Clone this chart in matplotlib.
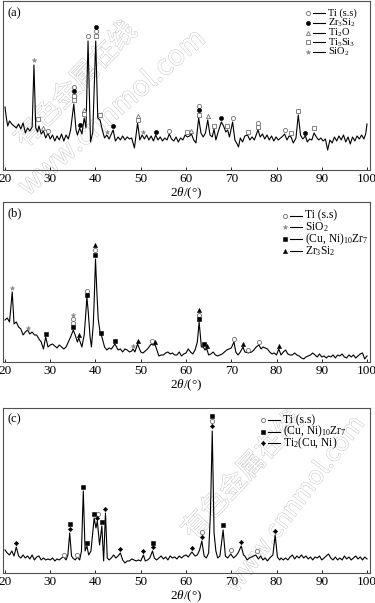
import numpy as np
import matplotlib
matplotlib.use("Agg")
import matplotlib.pyplot as plt
import matplotlib.patheffects as pe

plt.rcParams['font.family'] = 'Liberation Serif'
plt.rcParams['mathtext.fontset'] = 'custom'
plt.rcParams['mathtext.rm'] = 'Liberation Serif'
plt.rcParams['mathtext.it'] = 'Liberation Serif:italic'

# ---------------- pattern (a) ----------------
tt_a = [20.0, 20.3, 20.6, 21.0, 21.5, 22.0, 22.5, 23.0, 23.5, 24.0,
        24.5, 25.0, 25.5, 26.0, 26.4, 26.8, 27.2, 27.5, 28.0, 28.5,
        29.0, 29.5, 30.0, 30.5, 31.0, 31.5, 32.0, 32.5, 33.0, 33.5,
        34.0, 34.5, 35.2, 35.7, 36.0, 36.5, 37.0, 37.5, 37.9, 38.35,
        38.9, 39.4, 40.05, 40.5, 41.0, 41.5, 42.0, 42.5, 43.0, 43.5,
        43.9, 44.4, 45.0, 45.5, 46.0, 46.5, 47.0, 47.5, 48.0, 48.6,
        49.3, 49.8, 50.3, 50.8, 51.3, 51.8, 52.3, 52.8, 53.3, 53.8,
        54.3, 54.8, 55.3, 55.8, 56.3, 56.8, 57.3, 57.8, 58.3, 58.8,
        59.3, 59.8, 60.3, 60.8, 61.2, 61.7, 62.2, 62.8, 63.3, 63.8,
        64.3, 64.8, 65.3, 65.8, 66.2, 66.6, 67.1, 67.8, 68.3, 68.8,
        69.2, 69.6, 70.3, 70.8, 71.3, 71.6, 72.0, 72.5, 73.0, 73.6,
        74.1, 74.6, 75.1, 75.9, 76.4, 76.9, 77.4, 77.9, 78.4, 78.9,
        79.4, 79.9, 80.4, 80.9, 81.4, 81.8, 82.3, 82.8, 83.2, 83.7,
        84.3, 84.8, 85.3, 85.8, 86.4, 86.8, 87.3, 87.8, 88.3, 88.8,
        89.3, 89.8, 90.3, 90.8, 91.3, 91.8, 92.3, 92.8, 93.3, 93.8,
        94.3, 94.8, 95.3, 95.8, 96.3, 96.8, 97.3, 97.8, 98.3, 98.8,
        99.3, 99.7, 100.0]
int_a = [63, 52, 44, 49, 46, 44, 42, 46, 41, 47,
         37, 42, 39, 43, 105, 42, 38, 44, 36, 39,
         32, 37, 31, 35, 29, 34, 30, 36, 29, 35,
         31, 40, 66, 40, 35, 42, 36, 52, 42, 129,
         28, 38, 129, 52, 50, 40, 32, 35, 31, 36,
         40, 29, 33, 30, 34, 30, 33, 31, 32, 22,
         47, 30, 35, 31, 35, 30, 34, 29, 35, 30,
         33, 29, 32, 30, 36, 31, 29, 33, 28, 32,
         30, 35, 33, 34, 36, 30, 27, 52, 37, 33,
         37, 50, 35, 33, 41, 30, 38, 48, 44, 38,
         40, 33, 48, 30, 26, 23, 32, 28, 34, 35,
         30, 33, 30, 40, 33, 36, 31, 35, 30, 34,
         29, 33, 30, 32, 34, 36, 30, 34, 33, 27,
         32, 55, 35, 31, 34, 28, 31, 30, 37, 33,
         30, 32, 29, 31, 20, 30, 27, 33, 29, 34,
         30, 35, 28, 33, 26, 33, 29, 34, 31, 35,
         31, 36, 46]

a_ti_x = [29.6, 35.2, 38.35, 40.05, 56.3, 62.8, 70.3, 76.0, 81.8]
a_ti_y = [39, 83, 134, 138.5, 39, 64, 52, 47, 40]
a_zr_x = [35.2, 36.5, 40.05, 43.9, 53.3, 62.8, 67.8, 86.4]
a_zr_y = [79, 45, 143, 44, 38, 60, 52, 37]
a_ti2o_x = [28.5, 37.5, 49.3, 61.2, 64.8]
a_ti2o_y = [42, 60, 54, 39, 54]
a_ti5_x = [27.3, 35.2, 35.2, 37.5, 40.05, 41.0, 49.3, 60.2, 62.8, 66.2,
           69.0, 73.6, 76.0, 83.2, 84.8, 88.3]
a_ti5_y = [51, 70, 74, 56, 134, 55, 50, 38, 55, 44,
           44, 38, 43, 37, 59, 42]
a_sio2_x = [26.4, 42.5, 50.5]
a_sio2_y = [110, 38, 38]

# ---------------- pattern (b) ----------------
tt_b = [20.0, 20.5, 21.0, 21.6, 22.0, 22.5, 23.0, 23.5, 24.0, 24.5,
        25.0, 25.5, 26.0, 26.5, 27.0, 27.5, 28.0, 28.5, 29.0, 29.5,
        30.0, 30.5, 31.0, 31.5, 32.0, 32.5, 33.0, 33.5, 34.0, 34.5,
        35.1, 35.5, 36.0, 36.3, 37.0, 37.5, 37.8, 38.1, 38.4, 38.8,
        39.1, 39.5, 39.7, 40.0, 40.3, 40.6, 41.0, 41.3, 42.0, 42.5,
        43.0, 43.5, 44.3, 45.0, 45.5, 46.0, 46.5, 47.0, 47.5, 48.0,
        48.3, 48.7, 49.3, 50.0, 50.5, 51.0, 51.5, 52.3, 52.7, 53.2,
        53.7, 54.0, 54.5, 55.0, 55.5, 56.0, 56.5, 57.0, 57.5, 58.0,
        58.5, 59.0, 59.5, 60.0, 60.5, 61.0, 61.5, 62.0, 62.5, 62.9,
        63.4, 63.8, 64.2, 64.6, 65.0, 65.5, 66.0, 66.5, 67.0, 67.5,
        68.0, 68.5, 69.0, 69.5, 70.0, 70.6, 71.0, 71.5, 72.0, 72.6,
        73.0, 73.8, 74.5, 75.0, 75.5, 76.1, 76.6, 77.0, 77.5, 78.0,
        78.5, 79.0, 79.5, 80.0, 80.5, 81.0, 81.5, 82.0, 82.5, 83.0,
        83.5, 84.0, 84.5, 85.0, 85.5, 86.0, 86.5, 87.0, 87.5, 88.0,
        88.5, 89.0, 89.5, 90.0, 90.5, 91.0, 91.5, 92.0, 92.5, 93.0,
        93.5, 94.0, 94.5, 95.0, 95.5, 96.0, 96.5, 97.0, 97.5, 98.0,
        98.5, 99.0, 99.5, 100.0]
int_b = [42, 44, 40, 70, 38, 40, 35, 33, 27, 30,
         32, 28, 30, 27, 27, 23, 20, 13, 25, 15,
         17, 18, 16, 14, 17, 15, 13, 15, 20, 25,
         32, 27, 20, 24, 15, 27, 45, 65, 50, 25,
         15, 37, 60, 103, 70, 43, 30, 27, 15, 12,
         14, 13, 18, 12, 13, 10, 13, 12, 10, 11,
         13, 10, 18, 10, 9, 11, 13, 18, 17, 17,
         10, 6, 7, 7, 9, 10, 8, 9, 7, 7,
         10, 6, 8, 9, 13, 10, 8, 12, 20, 40,
         15, 15, 12, 13, 7, 8, 10, 7, 6, 7,
         8, 10, 12, 13, 14, 20, 10, 7, 10, 15,
         10, 9, 10, 12, 15, 17, 13, 15, 14, 13,
         10, 8, 9, 7, 13, 7, 10, 12, 8, 7,
         7, 9, 7, 6, 4, 3, 5, 6, 7, 9,
         7, 5, 8, 5, 6, 4, 6, 5, 7, 4,
         7, 6, 8, 5, 4, 7, 5, 7, 4, 6,
         8, 9, 3, 6]

b_ti_x = [35.1, 35.1, 38.1, 40.0, 52.5, 62.9, 70.6, 73.8, 76.1]
b_ti_y = [39, 43, 71, 112, 21, 47, 23, 12, 20]
b_sio2_x = [21.6, 25.0, 35.1, 48.3]
b_sio2_y = [74, 34, 47, 16]
b_cuni_x = [29.0, 35.1, 38.1, 40.0, 41.3, 44.3, 62.9, 63.9]
b_cuni_y = [28, 35, 67, 107, 29, 21, 43, 18]
b_zr_x = [36.3, 40.0, 49.3, 53.2, 62.9, 64.6, 72.6, 80.5]
b_zr_y = [27, 117, 21, 20, 52, 16, 18, 16]

# ---------------- pattern (c) ----------------
tt_c = [20.0, 20.5, 21.0, 21.5, 22.0, 22.5, 23.0, 23.5, 24.0, 24.5,
        25.0, 25.5, 26.0, 26.5, 27.0, 27.5, 28.0, 28.5, 29.0, 29.5,
        30.0, 30.5, 31.0, 31.5, 32.0, 32.5, 33.0, 33.5, 33.9, 34.3,
        34.7, 35.0, 35.5, 36.0, 36.5, 36.9, 37.3, 37.7, 38.1, 38.5,
        39.0, 39.7, 40.1, 40.4, 40.9, 41.4, 41.8, 42.2, 42.6, 43.0,
        43.5, 44.0, 44.5, 45.0, 45.5, 46.0, 46.5, 47.0, 47.5, 48.0,
        48.5, 49.0, 49.5, 50.0, 50.6, 51.0, 51.5, 52.0, 52.6, 53.0,
        53.5, 54.0, 54.5, 55.0, 55.5, 56.0, 56.5, 57.0, 57.5, 58.0,
        58.5, 59.0, 59.5, 60.0, 60.5, 61.3, 62.0, 62.5, 63.0, 63.5,
        64.0, 64.5, 65.0, 65.4, 65.8, 66.2, 66.6, 67.0, 67.5, 68.2,
        68.7, 69.2, 69.9, 70.5, 71.0, 71.5, 72.2, 72.7, 73.0, 73.5,
        74.0, 74.5, 75.4, 76.0, 76.5, 77.0, 77.5, 78.0, 78.5, 79.2,
        79.7, 80.2, 80.7, 81.0, 81.5, 82.0, 82.5, 83.0, 83.5, 84.0,
        84.5, 85.0, 85.5, 86.0, 86.5, 87.0, 87.5, 88.0, 88.5, 89.0,
        89.5, 90.0, 90.5, 91.0, 91.5, 92.0, 92.5, 93.0, 93.5, 94.0,
        94.5, 95.0, 95.5, 96.0, 96.5, 97.0, 97.5, 98.0, 98.5, 99.0,
        99.5, 100.0]
int_c = [23, 20, 18, 22, 17, 26, 17, 15, 18, 15,
         17, 14, 18, 13, 16, 17, 13, 15, 13, 14,
         13, 15, 12, 14, 13, 15, 16, 13, 18, 40,
         17, 15, 13, 16, 13, 22, 82, 22, 27, 18,
         22, 55, 45, 52, 28, 47, 12, 60, 15, 13,
         15, 18, 15, 17, 20, 13, 10, 12, 12, 14,
         13, 12, 13, 12, 18, 12, 13, 15, 22, 15,
         13, 15, 17, 14, 16, 13, 17, 15, 16, 14,
         17, 15, 17, 18, 16, 21, 17, 18, 23, 32,
         17, 15, 20, 60, 142, 40, 22, 15, 17, 43,
         17, 15, 19, 15, 17, 20, 27, 18, 17, 13,
         15, 16, 18, 14, 17, 13, 15, 12, 15, 18,
         38, 16, 13, 15, 13, 15, 13, 16, 18, 14,
         17, 15, 18, 15, 17, 14, 16, 13, 16, 15,
         17, 13, 15, 17, 19, 15, 13, 16, 13, 15,
         13, 17, 14, 16, 13, 15, 17, 14, 16, 13,
         16, 14]

c_ti_x = [33.1, 36.0, 40.6, 63.5, 65.8, 69.9, 75.6]
c_ti_y = [18, 18, 59, 41, 152, 23, 22]
c_cuni_x = [34.3, 37.3, 38.1, 39.7, 41.4, 52.6, 65.8, 68.2]
c_cuni_y = [49, 86, 30, 59, 51, 30, 157, 48]
c_ti2_x = [22.5, 34.3, 40.4, 42.2, 45.5, 50.6, 52.6, 61.3, 63.5, 65.8, 72.2, 79.7]
c_ti2_y = [30, 44, 55, 64, 24, 22, 26, 25, 36, 147, 31, 42]

x_ticks = [20, 30, 40, 50, 60, 70, 80, 90, 100]

OPEN = '#707070'
STYLES = {
    'open_o': dict(marker='o', mfc='white', mec=OPEN, ms=3.0, mew=0.6),
    'fill_o': dict(marker='o', mfc='black', mec='black', ms=3.0, mew=0.4),
    'open_t': dict(marker='^', mfc='white', mec=OPEN, ms=3.0, mew=0.6),
    'fill_t': dict(marker='^', mfc='black', mec='black', ms=3.0, mew=0.4),
    'open_s': dict(marker='s', mfc='white', mec=OPEN, ms=2.8, mew=0.6),
    'fill_s': dict(marker='s', mfc='black', mec='black', ms=2.8, mew=0.4),
    'star': dict(marker='*', mfc='#858585', mec='#858585', ms=3.4, mew=0.3),
    'fill_d': dict(marker='D', mfc='black', mec='black', ms=2.2, mew=0.4),
}


def draw_panel(ax, tt, inten, top, phases, tag, key_x, key_y, key_dy, key_fs):
    ax.set_facecolor('none')
    ax.plot(tt, inten, color='black', lw=0.8, zorder=2)
    for xs, ys, style, _label in phases:
        ax.plot(xs, ys, ls='none', zorder=3, **STYLES[style])
    ax.set_xlim(19.56, 100.66)
    ax.set_ylim(0, top)
    ax.set_yticks([])
    ax.set_xticks(x_ticks)
    ax.tick_params(axis='x', direction='in', length=2.5, width=0.6,
                   labelsize=9.5, pad=2.5)
    for sp in ax.spines.values():
        sp.set_color('#505050')
        sp.set_linewidth(0.8)
    ax.set_xlabel(r'$2\theta$/(°)', fontsize=9.5, labelpad=0)
    ax.text(0.012, 0.965, tag, transform=ax.transAxes, fontsize=9,
            va='top', ha='left')
    # key: marker, short line, then name
    for i, (_xs, _ys, style, label) in enumerate(phases):
        y = key_y - i * key_dy
        ax.plot([key_x], [y], transform=ax.transAxes, ls='none', **STYLES[style])
        ax.plot([key_x + 0.013, key_x + 0.046], [y, y], transform=ax.transAxes,
                color='black', lw=0.8)
        ax.text(key_x + 0.055, y, label, transform=ax.transAxes,
                fontsize=key_fs, va='center', ha='left')


fig = plt.figure(figsize=(3.75, 6.03), dpi=100)
ax_a = fig.add_axes([0.008, 0.7181, 0.9787, 0.2803])
ax_b = fig.add_axes([0.008, 0.3997, 0.9787, 0.2653])
ax_c = fig.add_axes([0.008, 0.0498, 0.9787, 0.2736])

draw_panel(ax_a, tt_a, int_a, 169, [
    (a_ti_x, a_ti_y, 'open_o', 'Ti (s.s)'),
    (a_zr_x, a_zr_y, 'fill_o', r'Zr$_3$Si$_2$'),
    (a_ti2o_x, a_ti2o_y, 'open_t', r'Ti$_2$O'),
    (a_ti5_x, a_ti5_y, 'open_s', r'Ti$_5$Si$_3$'),
    (a_sio2_x, a_sio2_y, 'star', r'SiO$_2$'),
], '(a)', 0.831, 0.929, 0.058, 7.5)

draw_panel(ax_b, tt_b, int_b, 160, [
    (b_ti_x, b_ti_y, 'open_o', 'Ti (s.s)'),
    (b_sio2_x, b_sio2_y, 'star', r'SiO$_2$'),
    (b_cuni_x, b_cuni_y, 'fill_s', r'(Cu, Ni)$_{10}$Zr$_7$'),
    (b_zr_x, b_zr_y, 'fill_t', r'Zr$_3$Si$_2$'),
], '(b)', 0.768, 0.914, 0.073, 8.3)

draw_panel(ax_c, tt_c, int_c, 165, [
    (c_ti_x, c_ti_y, 'open_o', 'Ti (s.s)'),
    (c_cuni_x, c_cuni_y, 'fill_s', r'(Cu, Ni)$_{10}$Zr$_7$'),
    (c_ti2_x, c_ti2_y, 'fill_d', r'Ti$_2$(Cu, Ni)'),
], '(c)', 0.708, 0.927, 0.071, 8.3)

# faint site watermark
halo = [pe.withStroke(linewidth=0.8, foreground='#cdcdcd')]
for txt, xy, rot, fs in [('有色金属在线', (0.203, 0.859), 46, 19.5),
                         ('www.cnnmol.com', (0.299, 0.813), 41, 20),
                         ('有色金属在线', (0.648, 0.211), 47, 19.5),
                         ('www.cnnmol.com', (0.787, 0.163), 53, 18)]:
    fig.text(xy[0], xy[1], txt, rotation=rot, ha='center', va='center',
             rotation_mode='anchor', fontsize=fs, color='white',
             family=['Noto Sans CJK SC', 'DejaVu Sans'],
             path_effects=halo, zorder=-1)

plt.savefig('out.png', dpi=100)
